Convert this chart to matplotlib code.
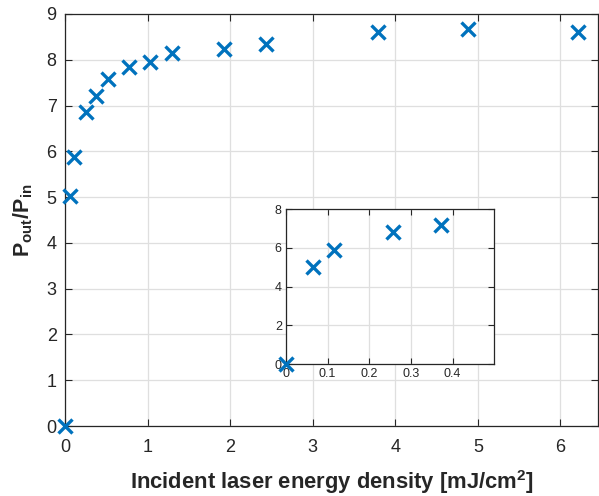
import matplotlib
matplotlib.use("Agg")
import matplotlib.pyplot as plt

plt.rcParams['font.family'] = ['Liberation Sans', 'DejaVu Sans']
plt.rcParams['mathtext.fontset'] = 'custom'
plt.rcParams['mathtext.rm'] = 'Liberation Sans:bold'
plt.rcParams['mathtext.bf'] = 'Liberation Sans:bold'
plt.rcParams['mathtext.default'] = 'rm'

energy = [0.0, 0.064, 0.115, 0.258, 0.371, 0.52, 0.78, 1.03, 1.29, 1.925, 2.44, 3.79, 4.88, 6.21]
gain = [0.0, 5.02, 5.88, 6.85, 7.21, 7.57, 7.85, 7.95, 8.14, 8.23, 8.34, 8.61, 8.67, 8.60]

inset_energy = [0.0, 0.064, 0.115, 0.258, 0.371]
inset_gain = [0.0, 5.02, 5.88, 6.85, 7.21]

main_xticks = [0, 1, 2, 3, 4, 5, 6]
main_yticks = [0, 1, 2, 3, 4, 5, 6, 7, 8, 9]
inset_xticks = [0, 0.1, 0.2, 0.3, 0.4]
inset_yticks = [0, 2, 4, 6, 8]

color = '#0072BD'
axcol = '#262626'

fig = plt.figure(figsize=(5.99, 4.96), dpi=100)
ax = fig.add_axes([0.1085, 0.1411, 0.8905, 0.8307])
ax.plot(energy, gain, linestyle='none', marker='x', markersize=10.5,
        markeredgewidth=2.4, color=color, clip_on=False, zorder=5)
ax.set_xlim(0, 6.46)
ax.set_ylim(0, 9)
ax.set_xticks(main_xticks)
ax.set_yticks(main_yticks)
ax.grid(True, color='#dfdfdf', linewidth=0.9)
ax.set_axisbelow(True)
ax.tick_params(direction='in', top=True, right=True, length=5, width=0.8,
               labelsize=13, colors=axcol)
ax.tick_params(axis='x', pad=9)
ax.tick_params(axis='y', pad=6)
for s in ax.spines.values():
    s.set_color(axcol)
    s.set_linewidth(0.9)
ax.set_xlabel(r'Incident laser energy density [mJ/cm$^{2}$]', fontsize=15.8,
              fontweight='bold', color=axcol, labelpad=9)
ax.set_ylabel(r'P$_{\mathrm{out}}$/P$_{\mathrm{in}}$', fontsize=15.5,
              fontweight='bold', color=axcol, labelpad=8)

ins = fig.add_axes([0.4775, 0.2661, 0.3477, 0.312])
ins.plot(inset_energy, inset_gain, linestyle='none', marker='x', markersize=10.5,
         markeredgewidth=2.4, color=color, clip_on=False, zorder=5)
ins.set_xlim(0, 0.5)
ins.set_ylim(0, 8)
ins.set_xticks(inset_xticks)
ins.set_xticklabels(['0', '0.1', '0.2', '0.3', '0.4'])
ins.set_yticks(inset_yticks)
ins.grid(True, color='#dfdfdf', linewidth=0.9)
ins.set_axisbelow(True)
ins.tick_params(direction='in', top=True, right=True, length=4, width=0.8,
                labelsize=9, colors=axcol, pad=3)
for s in ins.spines.values():
    s.set_color(axcol)
    s.set_linewidth(0.9)

fig.savefig('out.png', dpi=100)
